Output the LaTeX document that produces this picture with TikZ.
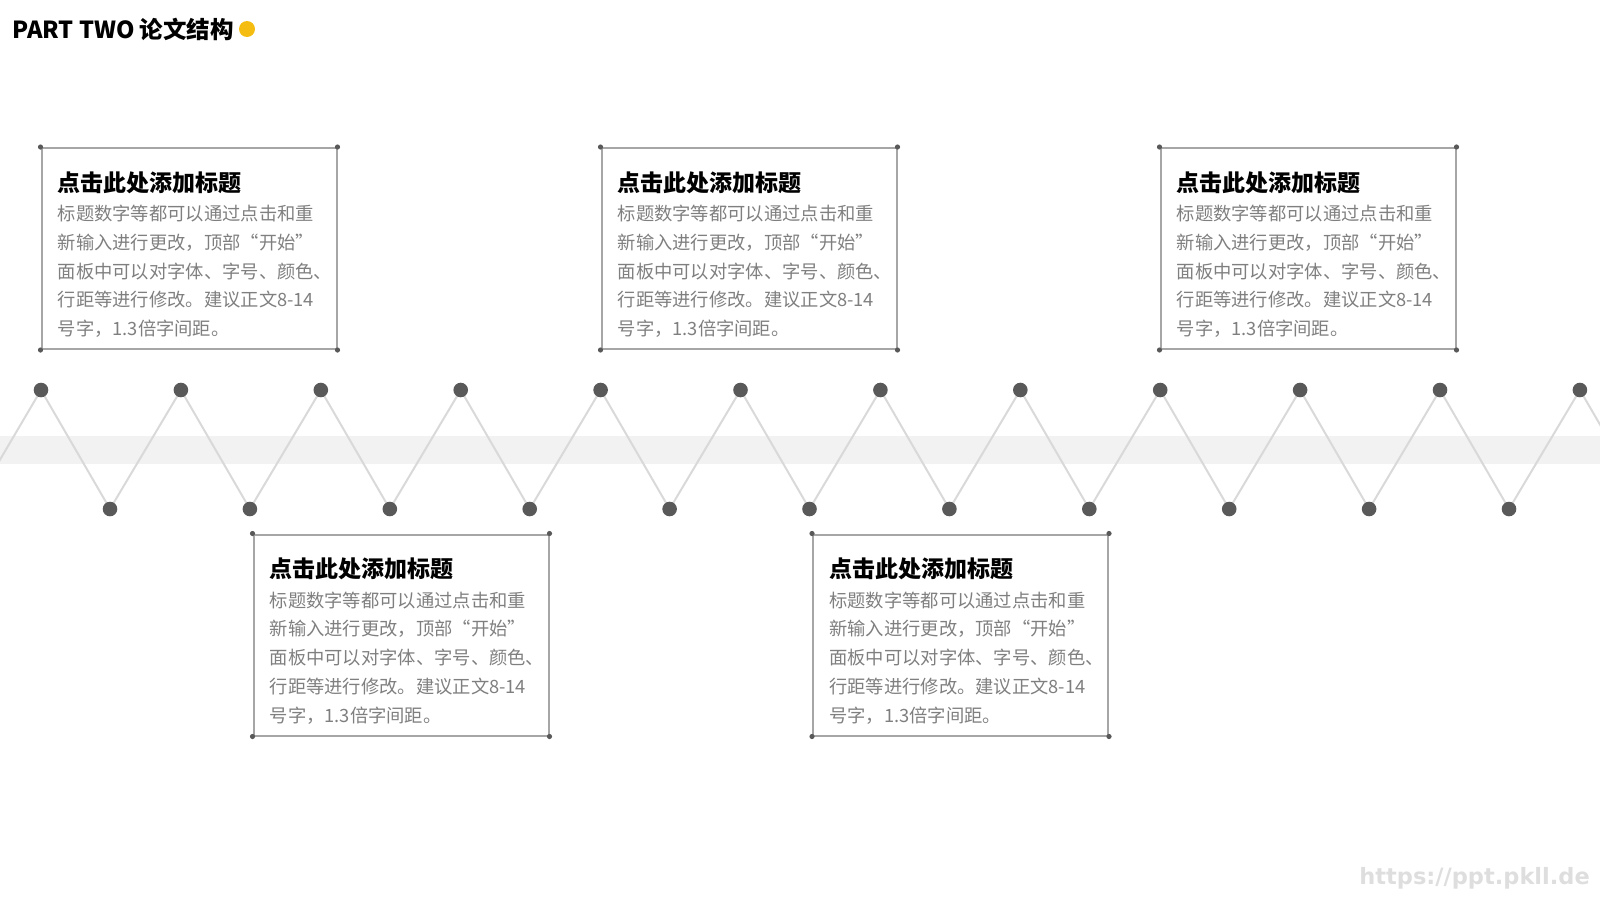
\documentclass[tikz,border=0pt]{standalone}
\usepackage{fontspec}
\setmainfont{Noto Sans CJK SC}
\newfontfamily\wmfont{DejaVu Sans}
\usetikzlibrary{backgrounds}
\definecolor{dotc}{HTML}{595959}
\definecolor{zigc}{HTML}{D9D9D9}
\definecolor{bandc}{HTML}{F2F2F2}
\definecolor{boxc}{HTML}{A6A6A6}
\definecolor{bodyc}{HTML}{7F7F7F}
\definecolor{yellowc}{HTML}{F5BD12}
\definecolor{wmc}{HTML}{DEDEDE}
\tikzset{
  bigdot/.style={circle, fill=dotc, minimum size=14.6pt, inner sep=0pt},
  zig/.style={draw=zigc, line width=2pt},
  boxrect/.style={draw=boxc, line width=2pt, minimum width=295pt, minimum height=201pt, inner sep=0pt, anchor=north west},
  titletext/.style={anchor=west, inner sep=0pt, font=\bfseries\fontsize{23}{27}\selectfont, text=black},
  bodytext/.style={anchor=north west, inner sep=0pt, align=left, font=\fontsize{18.3}{28.7}\selectfont, text=bodyc},
}
\newcommand\infobox[3]{%
  \node[boxrect] (#1) at (#2,#3) {};
  \foreach \a in {north west,north east,south west,south east}{\fill[dotc] (#1.\a) circle (2.6);}
  \node[titletext] (#1t) at ([xshift=17pt,yshift=-35.5pt]#1.north west) {点击此处添加标题};
  \node[bodytext] (#1b) at ([xshift=17pt,yshift=-58pt]#1.north west) {标题数字等都可以通过点击和重\\新输入进行更改，顶部“开始”\\面板中可以对字体、字号、颜色、\\行距等进行修改。建议正文8-14\\号字，1.3倍字间距。};
}
\begin{document}
\begin{tikzpicture}[x=1pt,y=-1pt]
\useasboundingbox (0,0) rectangle (1600,900);
% title
\node[anchor=west, inner sep=0pt, font=\bfseries\fontsize{23.5}{27}\selectfont] (title) at (12,29) {PART TWO 论文结构};
\node[circle, fill=yellowc, minimum size=16pt, inner sep=0pt] (ydot) at (247,29) {};
% dots
\foreach \k in {0,...,11}{\node[bigdot] (t\k) at ({41+139.9*\k},390) {};}
\foreach \k in {0,...,10}{\node[bigdot] (b\k) at ({110+139.9*\k},509) {};}
\coordinate (ls) at (-29,509);
\coordinate (le) at (1649,509);
\begin{pgfonlayer}{background}
  \clip (0,0) rectangle (1600,900);
  \fill[bandc] (0,436) rectangle (1600,464);
  \draw[zig] (ls) -- (t0.center);
  \draw[zig] (t11.center) -- (le);
  \foreach \k in {0,...,10}{
    \pgfmathtruncatemacro\n{\k+1}
    \draw[zig] (t\k.center) -- (b\k.center);
    \draw[zig] (b\k.center) -- (t\n.center);
  }
\end{pgfonlayer}
% boxes
\infobox{bA}{40.5}{147}
\infobox{bB}{600.5}{147}
\infobox{bC}{1159.5}{147}
\infobox{bD}{252.5}{533.5}
\infobox{bE}{812}{533.5}
% watermark
\node[anchor=east, inner sep=0pt, font=\wmfont\bfseries\fontsize{22.5}{26}\selectfont, text=wmc] (wm) at (1590,878) {https://ppt.pkll.de};
\end{tikzpicture}
\end{document}
